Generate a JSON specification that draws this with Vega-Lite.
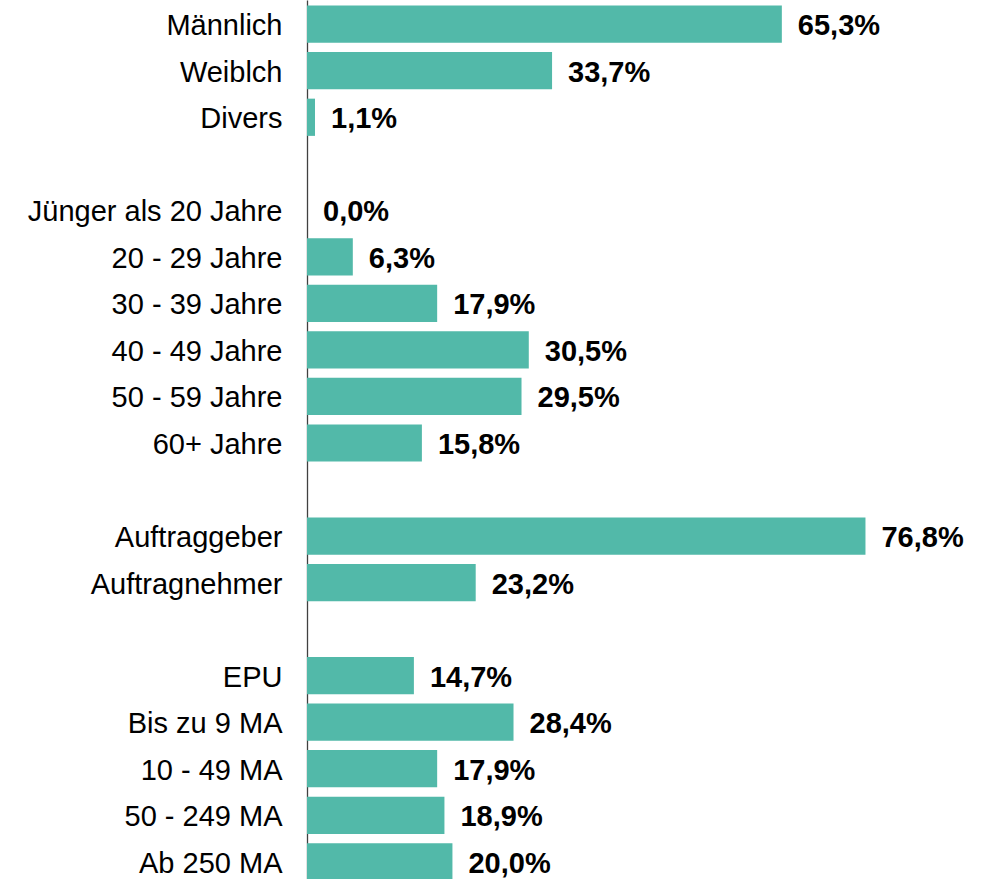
{
  "$schema": "https://vega.github.io/schema/vega-lite/v6.json",
  "autosize": {"type": "none"},
  "padding": {"left": 307, "top": 0, "right": 0, "bottom": 0},
  "width": 685,
  "height": 879,
  "background": "white",
  "config": {"view": {"stroke": null}, "font": "Liberation Sans"},
  "data": {
    "values": [
      {"cat": "Männlich", "value": 65.3, "label": "65,3%"},
      {"cat": "Weiblch", "value": 33.7, "label": "33,7%"},
      {"cat": "Divers", "value": 1.1, "label": "1,1%"},
      {"cat": "Jünger als 20 Jahre", "value": 0.0, "label": "0,0%"},
      {"cat": "20 - 29 Jahre", "value": 6.3, "label": "6,3%"},
      {"cat": "30 - 39 Jahre", "value": 17.9, "label": "17,9%"},
      {"cat": "40 - 49 Jahre", "value": 30.5, "label": "30,5%"},
      {"cat": "50 - 59 Jahre", "value": 29.5, "label": "29,5%"},
      {"cat": "60+ Jahre", "value": 15.8, "label": "15,8%"},
      {"cat": "Auftraggeber", "value": 76.8, "label": "76,8%"},
      {"cat": "Auftragnehmer", "value": 23.2, "label": "23,2%"},
      {"cat": "EPU", "value": 14.7, "label": "14,7%"},
      {"cat": "Bis zu 9 MA", "value": 28.4, "label": "28,4%"},
      {"cat": "10 - 49 MA", "value": 17.9, "label": "17,9%"},
      {"cat": "50 - 249 MA", "value": 18.9, "label": "18,9%"},
      {"cat": "Ab 250 MA", "value": 20.0, "label": "20,0%"}
    ]
  },
  "encoding": {
    "y": {
      "field": "cat",
      "type": "nominal",
      "sort": null,
      "scale": {
        "domain": ["Männlich", "Weiblch", "Divers", " ", "Jünger als 20 Jahre", "20 - 29 Jahre", "30 - 39 Jahre", "40 - 49 Jahre", "50 - 59 Jahre", "60+ Jahre", "  ", "Auftraggeber", "Auftragnehmer", "   ", "EPU", "Bis zu 9 MA", "10 - 49 MA", "50 - 249 MA", "Ab 250 MA"],
        "range": [0, 886],
        "paddingInner": 0.2,
        "paddingOuter": 0.12
      },
      "axis": {
        "title": null,
        "ticks": false,
        "labelFontSize": 29,
        "labelColor": "#000000",
        "labelFont": "Liberation Sans",
        "labelPadding": 25,
        "labelOffset": 2,
        "domainColor": "#404040",
        "domainWidth": 1.3,
        "labelLimit": 400
      }
    }
  },
  "layer": [
    {
      "mark": {"type": "bar", "color": "#52B9A9"},
      "encoding": {
        "x": {
          "field": "value",
          "type": "quantitative",
          "scale": {"domain": [0, 94.2], "nice": false, "zero": true},
          "axis": null
        }
      }
    },
    {
      "mark": {"type": "text", "align": "left", "baseline": "middle", "dx": 16, "dy": 2, "fontSize": 29, "fontWeight": "bold", "font": "Liberation Sans", "color": "#000000"},
      "encoding": {
        "x": {"field": "value", "type": "quantitative"},
        "text": {"field": "label"}
      }
    }
  ]
}
